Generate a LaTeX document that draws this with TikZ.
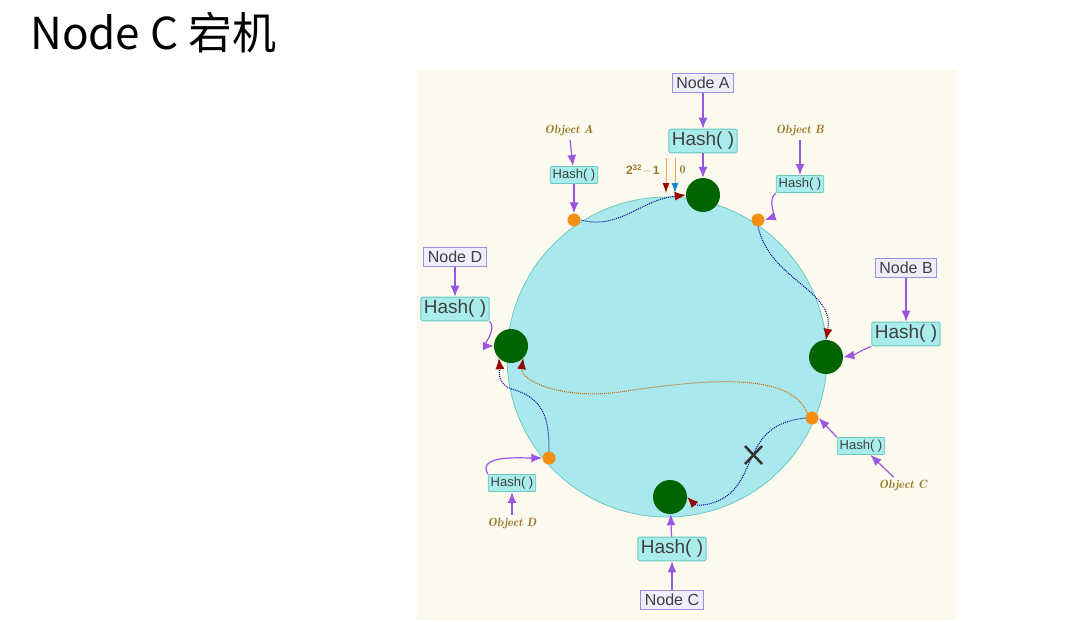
\documentclass[tikz,border=0pt]{standalone}
\usepackage{fontspec}
\setmainfont{Liberation Sans}
\newfontfamily\cjk{Noto Sans CJK SC}
\usetikzlibrary{arrows.meta}
\definecolor{pur}{HTML}{9B55E0}
\definecolor{hbox}{HTML}{A8ECEC}
\definecolor{hbd}{HTML}{6CC8C0}
\definecolor{nbox}{HTML}{EEEEFF}
\definecolor{nbd}{HTML}{9C8FE0}
\definecolor{ring}{HTML}{A9E8EC}
\definecolor{gdot}{HTML}{006400}
\definecolor{odot}{HTML}{F29011}
\definecolor{objc}{HTML}{9A7A2A}
\definecolor{dred}{HTML}{990000}
\definecolor{panel}{HTML}{FCFAEE}
\tikzset{
 hashbig/.style={draw=hbd,line width=1pt,fill=hbox,rounded corners=1.5pt,inner sep=3pt,text=black!75,font=\fontsize{19}{22}\selectfont},
 hashsm/.style={draw=hbd,line width=0.8pt,fill=hbox,rounded corners=1pt,inner sep=2.5pt,text=black!75,font=\fontsize{13}{15}\selectfont},
 nodebox/.style={draw=nbd,line width=0.8pt,fill=nbox,inner sep=4pt,text=black!75,font=\fontsize{16}{18}\selectfont},
 objlbl/.style={text=objc,font=\fontfamily{lmr}\itshape\bfseries\fontsize{12}{14}\selectfont},
 srv/.style={circle,fill=gdot,minimum size=34pt,inner sep=0},
 obj/.style={circle,fill=odot,minimum size=13pt,inner sep=0},
 parr/.style={pur,line width=1.2pt,-{Latex[length=11pt,width=9pt]}},
 blue dot/.style={draw=blue!60!black,densely dotted,line width=1pt,-{Latex[length=11pt,width=9pt,color=dred]}},
 yel dot/.style={draw=orange!80!black,densely dotted,line width=1pt,-{Latex[length=11pt,width=9pt,color=dred]}},
}
\begin{document}
\begin{tikzpicture}[x=1pt,y=-1pt]
\useasboundingbox (0,0) rectangle (1092,621);
\fill[white] (0,0) rectangle (1092,621);
\node[anchor=west,font=\cjk\fontsize{44}{48}\selectfont,inner sep=0] (title) at (30,33) {Node C 宕机};
\fill[panel] (417,70) rectangle (957,620);
\fill[ring] (667,357) circle (160);
\draw[hbd,line width=0.8pt] (667,357) circle (160);
% servers
\node[srv] (A) at (703,195) {};
\node[srv] (B) at (826,357) {};
\node[srv] (C) at (670,497) {};
\node[srv] (D) at (511,346) {};
% objects
\node[obj] (oa) at (574,220) {};
\node[obj] (ob) at (758,220) {};
\node[obj] (oc) at (812,418) {};
\node[obj] (od) at (549,458) {};
% labels
\node[nodebox] (na) at (703,83) {Node A};
\node[hashbig] (ha) at (703,141) {Hash( )};
\node[nodebox] (nb) at (906,268) {Node B};
\node[hashbig] (hb) at (906,334) {Hash( )};
\node[nodebox] (nd) at (455,257) {Node D};
\node[hashbig] (hd) at (455,309) {Hash( )};
\node[nodebox] (nc) at (672,600) {Node C};
\node[hashbig] (hc) at (672,549) {Hash( )};
\node[objlbl] (ta) at (569,131) {Object A};
\node[hashsm] (hoa) at (574,175) {Hash( )};
\node[objlbl] (tb) at (800,131) {Object B};
\node[hashsm] (hob) at (800,184) {Hash( )};
\node[hashsm] (hoc) at (861,446) {Hash( )};
\node[objlbl] (tc) at (903,486) {Object C};
\node[hashsm] (hod) at (512,483) {Hash( )};
\node[objlbl] (td) at (512,524) {Object D};
% purple arrows
\draw[parr] (na) -- (ha);
\draw[parr] (ha) -- (A);
\draw[parr] (nb) -- (hb);
\draw[parr] (hb.south west) to[out=200,in=10] (B.east);
\draw[parr] (nd) -- (hd);
\draw[parr] (hd.south east) to[out=-40,in=180] (D.west);
\draw[parr] (nc) -- (hc);
\draw[parr] (hc) -- (C);
\draw[parr] (ta) -- (hoa);
\draw[parr] (hoa) -- (oa);
\draw[parr] (tb) -- (hob);
\draw[parr] (hob.south west) to[out=220,in=20] (ob.east);
\draw[parr] (tc) -- (hoc);
\draw[parr] (hoc.north west) -- (oc.east);
\draw[parr] (td) -- (hod);
\draw[parr] (hod.north west) to[out=120,in=180] (od.west);
% 2^32-1 / 0 markers
\coordinate (m1t) at (666,158); \coordinate (m1b) at (666,193);
\coordinate (m2t) at (675,158); \coordinate (m2b) at (675,193);
\draw[orange!70,line width=1pt,-{Latex[length=10pt,width=7pt,color=dred]}] (m1t) -- (m1b);
\draw[orange!70,line width=1pt,-{Latex[length=10pt,width=7pt,color=cyan!70!blue]}] (m2t) -- (m2b);
\node[anchor=east,text=objc,font=\fontfamily{lmr}\bfseries\fontsize{12}{14}\selectfont] (l1) at (663,170) {$\mathbf{2^{32}\!-\!1}$};
\node[anchor=west,text=objc,font=\fontfamily{lmr}\bfseries\fontsize{12}{14}\selectfont] (l0) at (676,170) {0};
% dotted routing curves
\draw[blue dot] (oa.east) .. controls (620,230) and (640,200) .. (A.west);
\draw[blue dot] (ob.south) .. controls (770,280) and (835,290) .. (B.north);
\draw[blue dot] (od.north) .. controls (549,420) and (545,400) .. (515,390) .. controls (495,385) and (500,370) .. (D.south west);
\draw[yel dot] (oc.north west) .. controls (790,370) and (700,380) .. (620,392) .. controls (560,400) and (520,380) .. (D.south east);
\draw[blue dot] (oc.west) .. controls (740,425) and (760,480) .. (720,500) .. controls (705,507) and (695,505) .. (C.east);
% failure mark
\draw[black!80,line width=2.5pt] (745,446) -- (762,464) (762,446) -- (745,464);
\coordinate (x) at (753,455);
\end{tikzpicture}
\end{document}
